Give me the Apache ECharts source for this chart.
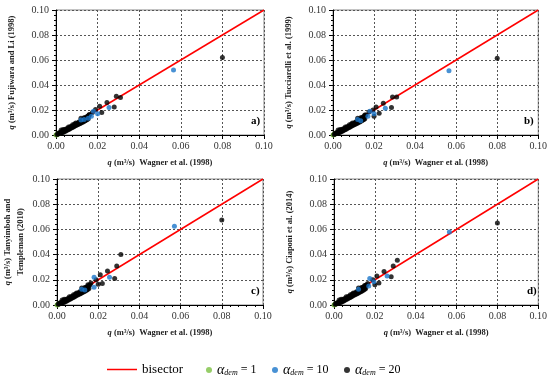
<!DOCTYPE html>
<html><head><meta charset="utf-8">
<script src="https://cdn.jsdelivr.net/npm/echarts@6/dist/echarts.min.js"></script>
<style>html,body{margin:0;padding:0;background:#fff}#c{width:550px;height:379px}</style>
</head><body><div id="c"></div>
<script>
// Shared dense cluster (alpha_dem = 20)
var clusterBlack = [[0.0005,0.0005],[0.001,0.0008],[0.0015,0.0012],[0.002,0.0018],[0.0025,0.002],[0.003,0.0025],[0.003,0.0032],[0.0035,0.003],[0.004,0.0035],[0.0045,0.004],[0.005,0.0042],[0.005,0.005],[0.0055,0.0048],[0.006,0.0052],[0.0065,0.0058],[0.007,0.006],[0.007,0.0068],[0.0075,0.0065],[0.008,0.007],[0.0085,0.0075],[0.009,0.008],[0.009,0.0088],[0.0095,0.0085],[0.010,0.009],[0.0105,0.0095],[0.011,0.0098],[0.011,0.0105],[0.0115,0.010],[0.012,0.011],[0.0125,0.0112],[0.013,0.0115],[0.013,0.0125],[0.0135,0.012],[0.014,0.013],[0.014,0.0138],[0.0145,0.0128],[0.015,0.014],[0.0155,0.0155],[0.016,0.016],[0.0025,0.004],[0.0035,0.0045],[0.006,0.0065],[0.008,0.0082],[0.012,0.0135],
  [0.003,0.002],[0.004,0.0028],[0.005,0.0036],[0.006,0.0045],[0.007,0.0054],[0.008,0.0062],[0.009,0.0072],[0.010,0.008],[0.011,0.0088],[0.012,0.0097],[0.013,0.0105],[0.014,0.0115],[0.015,0.0125],[0.0155,0.013],[0.0045,0.003],[0.0065,0.0048],[0.0085,0.0066],[0.0105,0.0085],[0.0125,0.0102],[0.0145,0.012],[0.002,0.0012],[0.0035,0.0022],[0.0055,0.004],[0.0075,0.0058],[0.0095,0.0077],[0.0115,0.0092],[0.0135,0.011],[0.0015,0.0018],[0.004,0.0042],[0.0095,0.0096],[0.0135,0.0138],[0.0148,0.0146]];
var green = [[0,0],[0.0003,0.0002],[0.0006,0.0005],[0.001,0.001],[0.0015,0.0013],[0.002,0.0019]];

var blackA = [[0.080,0.062],[0.029,0.031],[0.031,0.030],[0.028,0.0225],[0.0245,0.026],[0.022,0.018],[0.021,0.023],[0.019,0.0205],[0.0175,0.018],[0.016,0.0165],[0.0155,0.015]];
var blueA  = [[0.0565,0.052],[0.0255,0.022],[0.020,0.017],[0.018,0.019],[0.017,0.015],[0.0135,0.0125],[0.012,0.012],[0.0155,0.0135]];
var blackB = [[0.080,0.0615],[0.029,0.0305],[0.031,0.0305],[0.0285,0.022],[0.0245,0.0255],[0.0225,0.0175],[0.021,0.0225],[0.020,0.015],[0.0195,0.020],[0.0175,0.0185],[0.0155,0.016]];
var blueB  = [[0.0565,0.0515],[0.0255,0.0215],[0.020,0.017],[0.018,0.019],[0.017,0.015],[0.012,0.0125],[0.0135,0.0115]];
var blackC = [[0.080,0.0675],[0.031,0.040],[0.029,0.031],[0.0245,0.027],[0.021,0.024],[0.028,0.021],[0.020,0.0165],[0.022,0.017],[0.019,0.020],[0.0165,0.0175],[0.015,0.016]];
var blueC  = [[0.057,0.0625],[0.018,0.022],[0.0255,0.022],[0.018,0.014],[0.012,0.0125],[0.0135,0.012]];
var blackD = [[0.080,0.065],[0.031,0.0355],[0.029,0.031],[0.0245,0.0265],[0.021,0.023],[0.028,0.0225],[0.022,0.0175],[0.020,0.016],[0.019,0.020],[0.0165,0.017],[0.015,0.0155]];
var blueD  = [[0.0565,0.058],[0.0175,0.021],[0.026,0.023],[0.017,0.015],[0.0195,0.0185],[0.012,0.0125]];
var bisector = [[0,0],[0.1,0.1]];

var panelLabels = ['a)','b)','c)','d)'];
var yTitles = ['{i|q} (m³/s) Fujiwara and Li (1998)','{i|q} (m³/s) Tucciarelli et al. (1999)','{i|q} (m³/s) Tanyimboh and\nTempleman (2010)','{i|q} (m³/s) Ciaponi et al. (2014)'];
var xTitle = '{i|q} (m³/s)  Wagner et al. (1998)';
var blacks = [blackA,blackB,blackC,blackD];
var blues = [blueA,blueB,blueC,blueD];

var FONT = 'Liberation Serif';
var grids = [
  {left:56, top:10, width:208, height:125},
  {left:333, top:10, width:207, height:125},
  {left:56, top:179, width:207, height:126},
  {left:334, top:179, width:206, height:126}
];
var labelPos = [[251,116],[524,116],[251,286],[527,286]];

var xAxes=[], yAxes=[], series=[], graphics=[];
grids.forEach(function(g,i){
  g.show = true; g.borderColor = '#888'; g.borderWidth = 1; g.backgroundColor='#fff';
  var common = {
    gridIndex:i, type:'value', min:0, max:0.1, interval:0.02,
    axisLine:{show:true,lineStyle:{color:'#000',width:1}},
    axisTick:{show:true,length:4,lineStyle:{color:'#000'}},
    minorTick:{show:true,splitNumber:5,length:2,lineStyle:{color:'#000'}},
    splitLine:{show:true,lineStyle:{color:'#555',type:[2,2],width:1}},
    axisLabel:{fontFamily:FONT,fontSize:10,color:'#333',formatter:function(v){return v.toFixed(2);}},
    nameLocation:'middle',
    nameTextStyle:{fontFamily:FONT,fontSize:8.5,fontWeight:'bold',color:'#222',lineHeight:13,
      rich:{i:{fontFamily:FONT,fontSize:8.5,fontStyle:'italic',fontWeight:'bold',color:'#222'}}}
  };
  xAxes.push(Object.assign({}, common, {name:xTitle, nameGap:21, axisLabel:Object.assign({},common.axisLabel,{margin:6})}));
  yAxes.push(Object.assign({}, common, {name:yTitles[i], nameGap:(i==2?30:38), axisLabel:Object.assign({},common.axisLabel,{margin:7})}));
  series.push({name:'bisector',type:'line',xAxisIndex:i,yAxisIndex:i,data:bisector,showSymbol:false,symbol:'none',
    lineStyle:{color:'#ff0000',width:1.5},itemStyle:{color:'#ff0000'},z:3,silent:true,animation:false});
  series.push({name:'a1',type:'scatter',xAxisIndex:i,yAxisIndex:i,data:green,symbolSize:5,itemStyle:{color:'#7cc142'},z:4,animation:false});
  series.push({name:'a20',type:'scatter',xAxisIndex:i,yAxisIndex:i,data:clusterBlack.concat(blacks[i]),symbolSize:5,itemStyle:{color:'#000'},z:5,animation:false});
  series.push({name:'a10',type:'scatter',xAxisIndex:i,yAxisIndex:i,data:blues[i],symbolSize:5,itemStyle:{color:'#1a75c9'},z:6,animation:false});
  graphics.push({type:'text',left:labelPos[i][0],top:labelPos[i][1],z:10,
    style:{text:panelLabels[i],font:'bold 11px "Liberation Serif"',fill:'#000'}});
});

var alphaRich = {
  a:{fontFamily:FONT,fontSize:14,fontStyle:'italic',color:'#000'},
  s:{fontFamily:FONT,fontSize:8,fontStyle:'italic',color:'#000',padding:[5,0,0,0]},
  t:{fontFamily:FONT,fontSize:12,color:'#000'}
};
function legendFor(name,left,icon,w,h){
  return {data:[{name:name,icon:icon}],left:left,top:363,padding:0,itemWidth:w,itemHeight:h,itemGap:0,selectedMode:false,
    textStyle:{fontFamily:FONT,fontSize:13,color:'#000',rich:alphaRich},
    formatter:function(n){
      if(n==='bisector') return '{b|bisector}';
      if(n==='a1') return '{a|α}{s|dem}{t| = 1}';
      if(n==='a10') return '{a|α}{s|dem}{t| = 10}';
      return '{a|α}{s|dem}{t| = 20}';
    }};
}
alphaRich.b = {fontFamily:FONT,fontSize:13,color:'#000'};
var legends = [
  legendFor('bisector',107,'path://M0,9L30,9L30,10.5L0,10.5Z',30,11),
  legendFor('a1',206,'circle',6,6),
  legendFor('a10',272,'circle',6,6),
  legendFor('a20',344,'circle',6,6)
];

var chart = echarts.init(document.getElementById('c'),null,{renderer:'canvas'});
chart.setOption({
  animation:false,
  backgroundColor:'#fff',
  grid:grids, xAxis:xAxes, yAxis:yAxes, series:series, legend:legends, graphic:graphics
});
</script></body></html>
